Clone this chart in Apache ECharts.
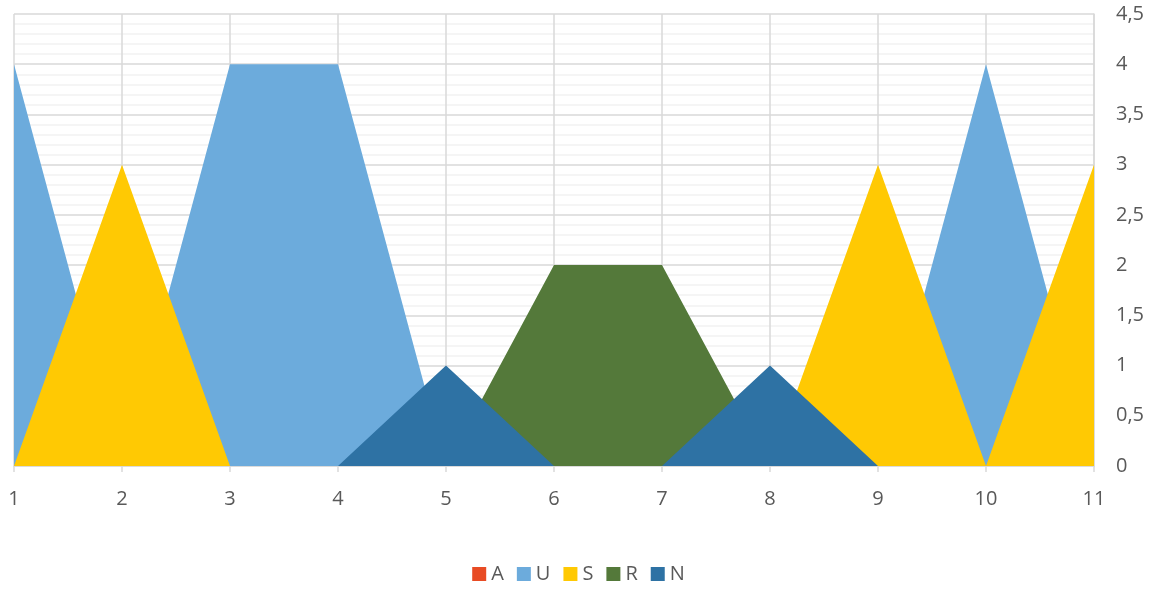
<!DOCTYPE html>
<html><head><meta charset="utf-8">
<script src="https://cdn.jsdelivr.net/npm/echarts@6/dist/echarts.min.js"></script>
<style>html,body{margin:0;padding:0;background:#fff}#c{width:1157px;height:590px}</style>
</head><body><div id="c"></div>
<script>
const categories = ['1','2','3','4','5','6','7','8','9','10','11'];
const seriesNames = ['A','U','S','R','N'];
const A = [0,0,0,0,0,0,0,0,0,0,0];
const U = [4,0,4,4,0,0,0,0,0,4,0];
const S = [0,3,0,0,0,0,0,0,3,0,3];
const R = [0,0,0,0,0,2,2,0,0,0,0];
const N = [0,0,0,0,1,0,0,1,0,0,0];
const colors = ['#E84B24','#6CABDC','#FFC903','#54793A','#2E72A4'];
const yTicks = {min:0, max:4.5, interval:0.5};

const chart = echarts.init(document.getElementById('c'));
const dataArr = [A,U,S,R,N];
chart.setOption({
  animation:false,
  textStyle:{fontFamily:'Open Sans, Liberation Sans, sans-serif'},
  grid:{left:14, right:63, top:14, bottom:124},
  legend:{bottom:1, left:'center', itemWidth:14, itemHeight:14, itemGap:13,
    icon:'rect', textStyle:{fontSize:20, color:'#595959'},
    data:seriesNames},
  xAxis:{type:'category', data:categories, boundaryGap:false,
    axisLine:{lineStyle:{color:'#d9d9d9', width:1.5}},
    axisTick:{show:true, length:6, lineStyle:{color:'#d9d9d9', width:1.5}},
    axisLabel:{fontSize:20, color:'#595959', margin:23},
    splitLine:{show:true, lineStyle:{color:'#d9d9d9', width:1.5}}},
  yAxis:{type:'value', position:'right', min:yTicks.min, max:yTicks.max, interval:yTicks.interval,
    axisLine:{show:true, lineStyle:{color:'#d9d9d9', width:1.5}},
    axisTick:{show:false},
    axisLabel:{fontSize:20, color:'#595959', margin:22,
      formatter:v=>String(v).replace('.',',')},
    splitLine:{show:true, lineStyle:{color:'#d9d9d9', width:1.5}},
    minorTick:{show:false, splitNumber:5},
    minorSplitLine:{show:true, lineStyle:{color:'#f2f2f2', width:1.5}}},
  series: seriesNames.map((n,i)=>({
    name:n, type:'line', data:dataArr[i], symbol:'none',
    lineStyle:{width:0}, areaStyle:{color:colors[i], opacity:1},
    itemStyle:{color:colors[i]}, z:2+i
  }))
});
</script></body></html>
